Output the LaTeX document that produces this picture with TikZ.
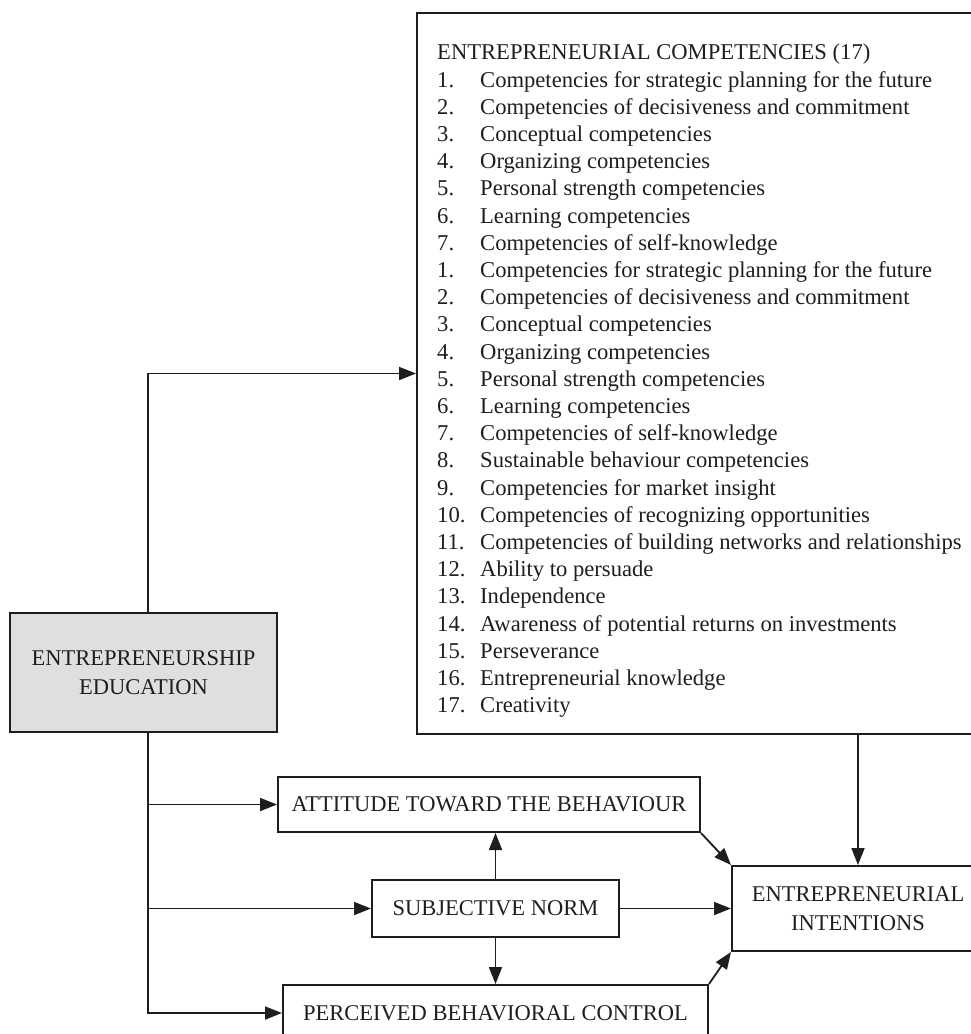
\documentclass[tikz,border=0pt]{standalone}
\usepackage{fontspec}
\setmainfont{Liberation Serif}
\usetikzlibrary{arrows.meta,positioning}
\definecolor{linegray}{RGB}{30,30,30}
\definecolor{edugray}{RGB}{222,224,223}
\newcommand{\compitem}[2]{\makebox[43pt][l]{#1.}#2}
\tikzset{
  box/.style={draw=linegray, line width=2pt, inner sep=0pt, align=center, text=linegray, font=\fontsize{22.5}{28.5}\selectfont},
  arr/.style={draw=linegray, line width=1.8pt, -{Triangle[length=17pt,width=13pt]}},
}
\begin{document}
\begin{tikzpicture}[x=1pt,y=-1pt]
  \useasboundingbox (0,0) rectangle (971,1034);
  %コンピテンシーの箱
  \node[box, anchor=north west, minimum width=600pt, minimum height=721pt] (comp) at (416,12) {};
  \node[anchor=north west, inner sep=0pt, align=left, text=linegray, font=\fontsize{22.6}{27.2}\selectfont] (complist) at (437,44) {%
    ENTREPRENEURIAL COMPETENCIES (17)\\
    \compitem{1}{Competencies for strategic planning for the future}\\
    \compitem{2}{Competencies of decisiveness and commitment}\\
    \compitem{3}{Conceptual competencies}\\
    \compitem{4}{Organizing competencies}\\
    \compitem{5}{Personal strength competencies}\\
    \compitem{6}{Learning competencies}\\
    \compitem{7}{Competencies of self-knowledge}\\
    \compitem{1}{Competencies for strategic planning for the future}\\
    \compitem{2}{Competencies of decisiveness and commitment}\\
    \compitem{3}{Conceptual competencies}\\
    \compitem{4}{Organizing competencies}\\
    \compitem{5}{Personal strength competencies}\\
    \compitem{6}{Learning competencies}\\
    \compitem{7}{Competencies of self-knowledge}\\
    \compitem{8}{Sustainable behaviour competencies}\\
    \compitem{9}{Competencies for market insight}\\
    \compitem{10}{Competencies of recognizing opportunities}\\
    \compitem{11}{Competencies of building networks and relationships}\\
    \compitem{12}{Ability to persuade}\\
    \compitem{13}{Independence}\\
    \compitem{14}{Awareness of potential returns on investments}\\
    \compitem{15}{Perseverance}\\
    \compitem{16}{Entrepreneurial knowledge}\\
    \compitem{17}{Creativity}};

  %左の箱
  \node[box, fill=edugray, minimum width=267pt, minimum height=119pt] (edu) at (143.5,672.5) {ENTREPRENEURSHIP\\EDUCATION};

  %中央の箱
  \node[box, minimum width=422pt, minimum height=55pt] (att) at (489,804.5) {ATTITUDE TOWARD THE BEHAVIOUR};
  \node[box, minimum width=247pt, minimum height=57pt] (sn) at (495.5,908.5) {SUBJECTIVE NORM};
  \node[box, minimum width=425pt, minimum height=56pt] (pbc) at (495.5,1013) {PERCEIVED BEHAVIORAL CONTROL};

  %右の箱
  \node[box, anchor=west, minimum width=252pt, minimum height=85pt] (ei) at (731,908.5) {ENTREPRENEURIAL\\INTENTIONS};

  %矢印
  \draw[arr] ([xshift=4.5pt]edu.north) |- (comp.west);
  \draw[arr] ([xshift=4.5pt]edu.south) |- (att.west);
  \draw[arr] ([xshift=4.5pt]edu.south) |- (sn.west);
  \draw[arr] ([xshift=4.5pt]edu.south) |- (pbc.west);
  \draw[arr] (sn.north) -- (sn.north |- att.south);
  \draw[arr] (sn.south) -- (pbc.north);
  \draw[arr] (sn.east) -- (ei.west);
  \draw[arr] (att.south east) -- (ei.north west);
  \draw[arr] (pbc.north east) -- (ei.south west);
  \draw[arr] (ei.north |- comp.south) -- (ei.north);
\end{tikzpicture}
\end{document}
